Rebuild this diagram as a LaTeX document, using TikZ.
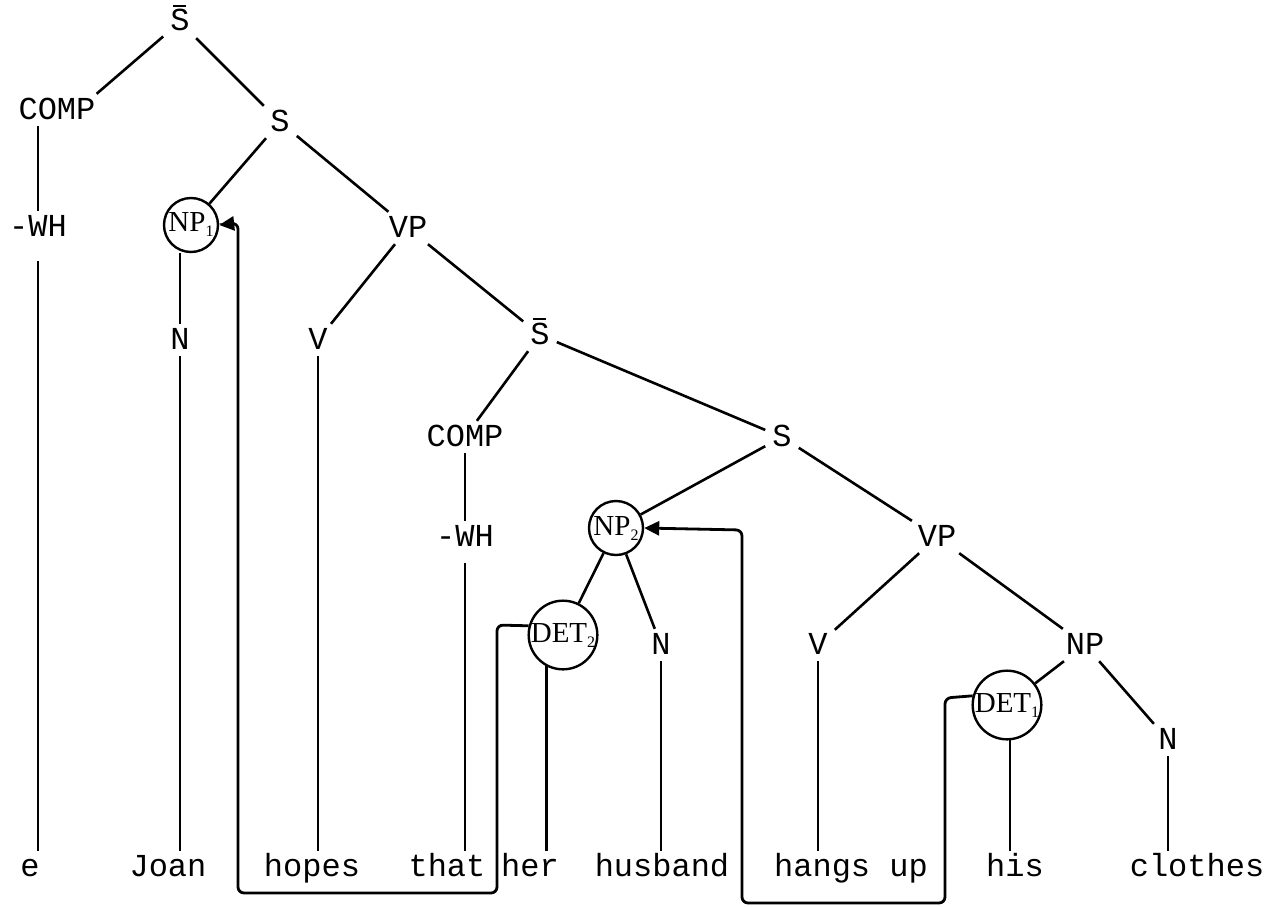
\documentclass[tikz,border=0pt]{standalone}
\usepackage{fontspec}
\setmonofont{Liberation Mono}
\newfontfamily\circfont{Liberation Serif}
\usetikzlibrary{arrows.meta}
\newcommand\Sbar{\leavevmode\rlap{\hspace{0.08em}\rule[0.74em]{0.42em}{0.07em}}S}
\newcommand\sub[1]{\raisebox{-5pt}{\fontsize{16}{16}\selectfont #1}}
\begin{document}
\begin{tikzpicture}[x=1pt,y=-1pt,
  lbl/.style={font=\fontsize{32}{36}\selectfont\ttfamily, inner sep=7pt, text height=18pt, text depth=0pt},
  circ/.style={circle, draw, line width=2.4pt, inner sep=0pt, font=\circfont\fontsize{29}{32}\selectfont},
  edge/.style={line width=2.6pt},
  link/.style={line width=2.8pt, rounded corners=6pt},
  tip/.style={-{Triangle[length=15pt,width=14pt]}}]
\useasboundingbox (0,0) rectangle (1265,907);
% level nodes
\node[lbl] (sbar1) at (180,22) {\Sbar};
\node[lbl] (comp1) at (57,110) {COMP};
\node[lbl] (s1) at (280,122) {S};
\node[lbl] (wh1) at (38,227) {-WH};
\node[circ, minimum size=54pt] (np1) at (191,225) {NP\sub{1}};
\node[lbl] (vp1) at (408,228) {VP};
\node[lbl] (n1) at (180,340) {N};
\node[lbl] (v1) at (318,340) {V};
\node[lbl] (sbar2) at (540,335) {\Sbar};
\node[lbl] (comp2) at (465,437) {COMP};
\node[lbl] (s2) at (782,437) {S};
\node[lbl] (wh2) at (465,537) {-WH};
\node[circ, minimum size=54pt] (np2) at (616,528) {NP\sub{2}};
\node[lbl] (vp2) at (937,537) {VP};
\node[circ, minimum size=66pt] (det2) at (563,635) {DET\sub{2}};
\node[lbl] (n2) at (661,645) {N};
\node[lbl] (v2) at (818,645) {V};
\node[lbl] (np3) at (1085,645) {NP};
\node[circ, minimum size=66pt] (det1) at (1007,705) {DET\sub{1}};
\node[lbl] (n3) at (1168,740) {N};
% leaves
\node[lbl] (e) at (30,867) {e};
\node[lbl] (joan) at (168,867) {Joan};
\node[lbl] (hopes) at (312,867) {hopes};
\node[lbl] (that) at (447,867) {that};
\node[lbl] (her) at (530,867) {her};
\node[lbl] (husband) at (662,867) {husband};
\node[lbl] (hangs) at (851,867) {hangs up};
\node[lbl] (his) at (1015,867) {his};
\node[lbl] (clothes) at (1197,867) {clothes};
% tree edges
\draw[edge] (sbar1) -- ([xshift=-6pt]comp1.north east);
\draw[edge] (sbar1) -- (s1);
\draw[edge] (wh1 |- comp1.south) -- (wh1.north);
\draw[edge] (s1) -- (np1);
\draw[edge] (s1) -- (vp1);
\draw[edge, shorten <=18pt] (wh1.south) -- (wh1 |- e.north);
\draw[edge] (n1 |- np1.south) -- (n1.north);
\draw[edge] (vp1) -- (v1);
\draw[edge] (vp1) -- (sbar2);
\draw[edge] (n1.south) -- (n1 |- joan.north);
\draw[edge] (v1.south) -- (v1 |- hopes.north);
\draw[edge] (sbar2) -- (comp2);
\draw[edge] (sbar2) -- (s2);
\draw[edge] (wh2 |- comp2.south) -- (wh2.north);
\draw[edge] (s2) -- (np2);
\draw[edge] (s2) -- (vp2);
\draw[edge, shorten <=10pt] (wh2.south) -- (wh2 |- that.north);
\draw[edge] (np2) -- (det2);
\draw[edge] (np2) -- (n2);
\draw[edge] (vp2) -- (v2);
\draw[edge] (vp2) -- (np3);
\draw[edge] (det2.242) -- (det2.242 |- her.north);
\draw[edge] (n2.south) -- (n2 |- husband.north);
\draw[edge] (v2.south) -- (v2 |- hangs.north);
\draw[edge] (np3) -- (det1);
\draw[edge] (np3) -- (n3);
\draw[edge] (det1.275) -- (det1.275 |- his.north);
\draw[edge] (n3.south) -- (n3 |- clothes.north);
% movement links
\draw[link, tip] (det2.165) -- (497,625) -- (497,893) -- (238,893) -- (238,223) -- (np1.east);
\draw[link, tip] (det1.165) -- (945,698) -- (945,903) -- (742,903) -- (742,530) -- (np2.east);
\end{tikzpicture}
\end{document}
